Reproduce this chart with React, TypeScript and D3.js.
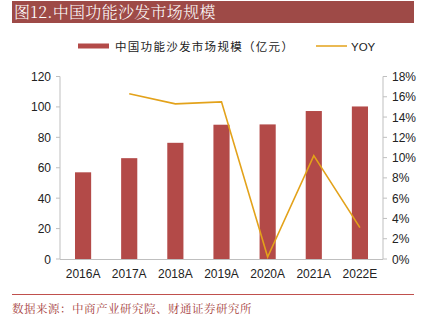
import React from "react";
import * as d3 from "d3";

const categories = ["2016A", "2017A", "2018A", "2019A", "2020A", "2021A", "2022E"];
const marketSize = [57, 66.3, 76.4, 88.3, 88.5, 97.3, 100.3];
const yoyCategories = ["2017A", "2018A", "2019A", "2020A", "2021A", "2022E"];
const yoyValues = [16.3, 15.3, 15.5, 0.2, 10.2, 3.1];
const leftTicks = [0, 20, 40, 60, 80, 100, 120];
const rightTicks = [0, 2, 4, 6, 8, 10, 12, 14, 16, 18];

const W = 436;
const H = 324;
const M = { left: 60, right: 383, top: 76.5, bottom: 259 };
const BAR = "#B34A48";
const LINE = "#E3A21A";
const AXIS = "#BFBFBF";
const TITLE_BG = "#9E4A47";
const SERIF = "'Noto Sans CJK SC', serif";
const SANS = "'Liberation Sans', Arial, sans-serif";

export default function App() {
  const x = d3.scaleBand<string>().domain(categories).range([M.left, M.right]).paddingInner(0.65).paddingOuter(0.325);
  const yL = d3.scaleLinear().domain([0, 120]).range([M.bottom, M.top]);
  const yR = d3.scaleLinear().domain([0, 18]).range([M.bottom, M.top]);
  const cx = (c: string) => (x(c) as number) + x.bandwidth() / 2;
  const line = d3
    .line<number>()
    .x((_, i) => cx(yoyCategories[i]))
    .y((d) => yR(d));

  return (
    <svg width={W} height={H} style={{ position: "absolute", left: 0, top: 0, background: "#fff" }}>
      <rect x={12} y={1} width={402} height={22} fill={TITLE_BG} />
      <text x={14} y={18} fill="#fff" fontSize={16} fontFamily={"'Noto Serif CJK SC', 'Noto Sans CJK SC', serif"} letterSpacing={0.3} style={{ fontWeight: 300 }}>
        图12.中国功能沙发市场规模
      </text>

      {/* legend */}
      <rect x={78} y={43.5} width={31} height={5} fill={BAR} />
      <text x={115} y={50.5} fontSize={11.5} fontFamily={SERIF} fill="#222" letterSpacing={1.3}>
        中国功能沙发市场规模（亿元）
      </text>
      <line x1={316} x2={347} y1={46} y2={46} stroke={LINE} strokeWidth={1.5} />
      <text x={351} y={50.5} fontSize={11.5} fontFamily={SANS} fill="#222">
        YOY
      </text>

      {/* bars */}
      {categories.map((c, i) => (
        <rect key={c} x={x(c)} y={yL(marketSize[i])} width={x.bandwidth()} height={M.bottom - yL(marketSize[i])} fill={BAR} />
      ))}

      {/* axes */}
      <line x1={M.left} x2={M.left} y1={M.top} y2={M.bottom} stroke={AXIS} />
      <line x1={M.right} x2={M.right} y1={M.top} y2={M.bottom} stroke={AXIS} />
      <line x1={M.left} x2={M.right} y1={M.bottom + 0.5} y2={M.bottom + 0.5} stroke={AXIS} />
      {leftTicks.map((t) => (
        <g key={"l" + t}>
          <line x1={M.left - 4} x2={M.left} y1={yL(t)} y2={yL(t)} stroke={AXIS} />
          <text x={51} y={yL(t) + 4.5} textAnchor="end" fontSize={12} fontFamily={SANS} fill="#222">
            {t}
          </text>
        </g>
      ))}
      {rightTicks.map((t) => (
        <g key={"r" + t}>
          <line x1={M.right} x2={M.right + 4} y1={yR(t)} y2={yR(t)} stroke={AXIS} />
          <text x={392} y={yR(t) + 4.5} textAnchor="start" fontSize={12} fontFamily={SANS} fill="#222">
            {t}%
          </text>
        </g>
      ))}
      {categories.map((c) => (
        <text key={"x" + c} x={cx(c)} y={278} textAnchor="middle" fontSize={12} fontFamily={SANS} fill="#222">
          {c}
        </text>
      ))}

      {/* YOY line */}
      <path d={line(yoyValues) || ""} fill="none" stroke={LINE} strokeWidth={1.6} />

      {/* footer */}
      <line x1={12} x2={414} y1={294.5} y2={294.5} stroke="#C0504D" strokeWidth={1} />
      <text x={12} y={312.5} fontSize={11.5} fontFamily={"'Noto Serif CJK SC', 'Noto Sans CJK SC', serif"} fill="#A5403C" letterSpacing={0.5}>
        数据来源：中商产业研究院、财通证券研究所
      </text>
    </svg>
  );
}
